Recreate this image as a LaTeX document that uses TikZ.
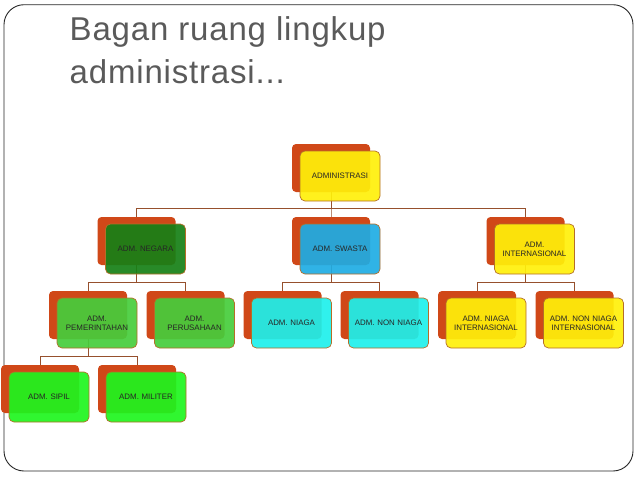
\documentclass[tikz,border=0pt]{standalone}
\usepackage{fontspec}
\setmainfont{Liberation Sans}
\usetikzlibrary{calc}
\pgfdeclarelayer{background}
\pgfsetlayers{background,main}
\definecolor{backred}{RGB}{208,72,24}
\definecolor{yel}{RGB}{255,240,10}
\definecolor{dgreen}{RGB}{22,128,22}
\definecolor{sky}{RGB}{30,172,228}
\definecolor{mgreen}{RGB}{70,205,60}
\definecolor{cyanb}{RGB}{30,240,235}
\definecolor{lgreen}{RGB}{30,245,30}
\definecolor{connc}{RGB}{150,80,45}
\definecolor{edgec}{RGB}{180,110,40}
\definecolor{titlegray}{RGB}{90,90,90}
\tikzset{
 backbox/.style={fill=backred, minimum width=78pt, minimum height=48pt, rounded corners=4pt, inner sep=0pt},
 frontbox/.style={fill=#1, fill opacity=0.92, text opacity=1, draw=edgec, line width=0.7pt,
   minimum width=80pt, minimum height=50pt, rounded corners=5pt, align=center,
   font=\fontsize{7.9}{9.2}\selectfont, text=black!85, inner sep=1pt, text width=78pt},
 conn/.style={draw=connc, line width=0.8pt},
 titletext/.style={anchor=base west, inner sep=0pt, text=titlegray,
   font=\addfontfeature{LetterSpace=2.5}\fontsize{33}{42}\selectfont},
}
\newcommand\orgbox[5]{%
 \node[backbox] (#1B) at (#2-9,#3-8) {};
 \node[frontbox=#4] (#1) at (#2,#3) {#5};
}
\newcommand\orgconn[2]{%
 \draw[conn] (#1B.center) |- ($(#2B.north)+(0,-8)$) -| (#2B.center);
}
\begin{document}
\begin{tikzpicture}[x=1pt,y=-1pt]
\useasboundingbox (0,0) rectangle (638,479);
\draw[draw=black!85, line width=0.9pt, rounded corners=20pt] (4,4.7) rectangle (633,471);
\node[titletext] (title1) at (69.5,41) {Bagan ruang lingkup};
\node[titletext] (title2) at (69.5,83) {administrasi...};

\orgbox{admin}{340}{176}{yel}{ADMINISTRASI}
\orgbox{negara}{145.5}{249}{dgreen}{ADM. NEGARA}
\orgbox{swasta}{340}{249}{sky}{ADM. SWASTA}
\orgbox{intl}{534.5}{249}{yel}{ADM.\\INTERNASIONAL}
\orgbox{pemerintahan}{97}{323}{mgreen}{ADM.\\PEMERINTAHAN}
\orgbox{perusahaan}{194.5}{323}{mgreen}{ADM.\\PERUSAHAAN}
\orgbox{niaga}{291.5}{323}{cyanb}{ADM. NIAGA}
\orgbox{nonniaga}{388.5}{323}{cyanb}{ADM. NON NIAGA}
\orgbox{niagaint}{486}{323}{yel}{ADM. NIAGA\\INTERNASIONAL}
\orgbox{nonniagaint}{583.5}{323}{yel}{ADM. NON NIAGA\\INTERNASIONAL}
\orgbox{sipil}{49}{397}{lgreen}{ADM. SIPIL}
\orgbox{militer}{146}{397}{lgreen}{ADM. MILITER}

\begin{pgfonlayer}{background}
\orgconn{admin}{negara}
\orgconn{admin}{swasta}
\orgconn{admin}{intl}
\orgconn{negara}{pemerintahan}
\orgconn{negara}{perusahaan}
\orgconn{swasta}{niaga}
\orgconn{swasta}{nonniaga}
\orgconn{intl}{niagaint}
\orgconn{intl}{nonniagaint}
\orgconn{pemerintahan}{sipil}
\orgconn{pemerintahan}{militer}
\end{pgfonlayer}
\end{tikzpicture}
\end{document}
